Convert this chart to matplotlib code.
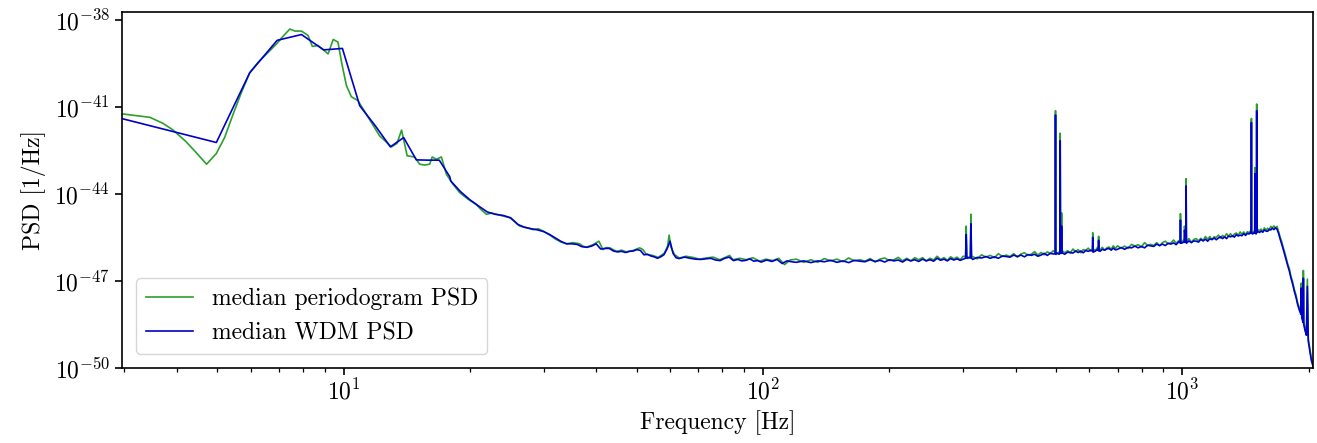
'''
Median PSD comparison: periodogram vs WDM.
'''

import numpy as np
import matplotlib.pyplot as plt
from matplotlib.ticker import NullLocator

# values are log10(PSD [1/Hz])

# low frequency part, periodogram
green_low_freq = [2.96, 3.45, 3.71, 3.92, 4.20, 4.45, 4.71, 4.97, 5.20, 5.45, 5.70, 5.97,
                  6.25, 6.55, 6.92, 7.20, 7.44, 7.65, 7.93, 8.22, 8.42, 8.68, 8.95, 9.18,
                  9.44, 9.69, 9.90, 10.15, 10.43, 10.81, 11.5, 12.18, 13.0, 13.4, 13.74,
                  14.17, 14.76, 15.18, 15.6, 16.03, 16.26, 16.63, 17.1, 17.58, 18.2, 18.9,
                  19.8, 20.7, 21.3, 21.9, 22.5, 23.1, 24.0, 24.9, 25.6, 26.3, 27.3, 28.3,
                  29.1, 29.9, 31.0, 32.1, 33.0, 34.0, 35.2, 36.5, 37.2, 37.9, 39.3, 40.6,
                  41.5, 42.3, 43.1, 44.7, 46.0, 47.2, 49.0, 50.8, 51.7, 52.7, 54.5, 56.2,
                  58.2, 59.2, 59.7, 60.2, 60.4, 61.5, 63.2, 65.5, 68.0, 70.5, 73.2, 76.0,
                  78.8, 81.0, 83.2, 84.7, 88.0, 91.2, 94.5, 98.1, 101.5, 105.5, 109.0,
                  112.5, 116.0]
green_low_log = [-41.23, -41.35, -41.56, -41.79, -42.18, -42.57, -42.97, -42.60, -42.05,
                 -41.24, -40.50, -39.81, -39.45, -39.16, -38.81, -38.52, -38.30, -38.37,
                 -38.37, -38.52, -38.90, -38.87, -39.02, -39.16, -38.66, -38.75, -39.50,
                 -40.25, -40.64, -40.77, -41.40, -41.99, -42.37, -42.25, -41.79, -42.68,
                 -42.72, -42.97, -43.00, -42.97, -42.72, -42.80, -42.72, -43.32, -43.65,
                 -43.95, -44.18, -44.36, -44.55, -44.70, -44.66, -44.70, -44.76, -44.82,
                 -44.95, -45.11, -45.16, -45.23, -45.20, -45.28, -45.42, -45.57, -45.66,
                 -45.72, -45.68, -45.72, -45.80, -45.84, -45.75, -45.63, -45.92, -45.85,
                 -45.86, -45.98, -45.94, -46.00, -45.95, -45.86, -45.92, -46.09, -46.12,
                 -46.19, -46.04, -45.80, -45.42, -45.80, -45.86, -46.10, -46.21, -46.15,
                 -46.19, -46.25, -46.21, -46.18, -46.27, -46.20, -46.12, -46.27, -46.22,
                 -46.27, -46.20, -46.32, -46.25, -46.30, -46.22, -46.44, -46.28]

# low frequency part, WDM
blue_low_freq = [2.0, 4.97, 5.97, 6.94, 7.93, 8.96, 9.93, 10.92, 11.92, 12.92, 13.9, 14.9,
                 15.9, 16.9, 17.9, 18, 19, 20, 21, 22, 23, 24, 25, 26, 27, 28, 29, 30, 31,
                 32, 33, 34, 35, 36, 37, 38, 39, 40, 41, 42, 43, 44, 45, 46, 47, 48, 49,
                 50, 51, 52, 53, 54, 55, 56, 57, 58, 59, 60, 61, 62, 63, 65, 67, 69, 71,
                 73, 75, 77, 79, 81, 83, 85, 87, 89, 91, 93, 95, 97, 99, 102, 105, 108,
                 111, 114, 117]
blue_low_log = [-40.77, -42.22, -39.81, -38.69, -38.49, -39.02, -38.97, -40.95, -41.66,
                -42.37, -42.05, -42.82, -42.83, -42.83, -43.40, -43.55, -43.92, -44.20,
                -44.42, -44.62, -44.70, -44.74, -44.82, -45.05, -45.15, -45.20, -45.24,
                -45.30, -45.40, -45.52, -45.64, -45.72, -45.72, -45.74, -45.82, -45.84,
                -45.80, -45.72, -45.90, -45.88, -45.88, -45.97, -46.00, -45.98, -46.02,
                -45.98, -45.97, -45.92, -45.95, -46.10, -46.08, -46.14, -46.17, -46.22,
                -46.17, -46.10, -45.90, -45.63, -46.05, -46.20, -46.23, -46.18, -46.22,
                -46.25, -46.26, -46.24, -46.22, -46.28, -46.30, -46.22, -46.18, -46.30,
                -46.26, -46.31, -46.29, -46.24, -46.32, -46.30, -46.35, -46.28, -46.33,
                -46.26, -46.40, -46.31, -46.34]

# flat part, shared frequency grid
plateau_freq = [120, 125, 130, 135, 140, 145, 150, 155, 160, 165, 170, 175, 180, 185, 190,
                195, 200, 205, 210, 215, 220, 225, 230, 235, 240, 245, 250, 255, 260, 265,
                270, 275, 280, 285, 290, 295,
                300, 308, 316, 324, 332, 340, 348, 356, 364, 372, 380, 388, 396, 404, 412,
                420, 428, 436, 444, 452, 460, 468, 476, 484, 492, 500, 508, 516, 524, 532,
                540, 548, 556, 564, 572, 580, 588, 596, 604, 612, 620, 628, 636, 644, 652,
                660, 668, 676, 684, 692,
                700, 714, 728, 742, 756, 770, 784, 798, 812, 826, 840, 854, 868, 882, 896,
                910, 924, 938, 952, 966, 980, 994, 1008, 1022, 1036, 1050, 1064, 1078,
                1092, 1106, 1120, 1134, 1148, 1162, 1176, 1190, 1204, 1218, 1232, 1246,
                1260, 1274, 1288, 1302, 1316, 1330, 1344, 1358, 1372, 1386, 1400, 1414,
                1428, 1442, 1456, 1470, 1484, 1498, 1512, 1526, 1540, 1554, 1568, 1582,
                1596, 1610, 1624, 1638, 1652, 1666, 1680]
green_plateau = [-46.25, -46.36, -46.27, -46.36, -46.23, -46.31, -46.25, -46.34, -46.21,
                 -46.31, -46.27, -46.32, -46.23, -46.35, -46.25, -46.21, -46.30, -46.27,
                 -46.19, -46.31, -46.22, -46.31, -46.20, -46.27, -46.20, -46.31, -46.22,
                 -46.28, -46.15, -46.26, -46.20, -46.29, -46.17, -46.24, -46.18, -46.27,
                 -46.15, -46.23, -46.16, -46.24, -46.10, -46.18, -46.12, -46.20, -46.06,
                 -46.16, -46.11, -46.16, -46.06, -46.18, -46.07, -46.03, -46.12, -46.08,
                 -45.99, -46.11, -46.02, -46.10, -46.00, -46.05, -45.96, -46.09, -46.00,
                 -45.95, -46.03, -45.96, -46.04, -45.90, -45.99, -45.92, -46.03, -45.92,
                 -45.95, -45.87, -45.97, -45.90, -45.95, -45.83, -45.93, -45.84, -45.94,
                 -45.86, -45.83, -45.91, -45.79, -45.88,
                 -45.79, -45.87, -45.80, -45.88, -45.74, -45.80, -45.75, -45.83, -45.68,
                 -45.78, -45.74, -45.78, -45.68, -45.79, -45.68, -45.63, -45.72, -45.69,
                 -45.59, -45.70, -45.61, -45.69, -45.57, -45.63, -45.54, -45.67, -45.57,
                 -45.54, -45.62, -45.53, -45.61, -45.47, -45.56, -45.47, -45.58, -45.48,
                 -45.50, -45.42, -45.52, -45.43, -45.49, -45.37, -45.46, -45.37, -45.47,
                 -45.38, -45.35, -45.43, -45.31, -45.39, -45.31, -45.40, -45.30, -45.34,
                 -45.25, -45.35, -45.27, -45.35, -45.22, -45.27, -45.21, -45.30, -45.17,
                 -45.25, -45.18, -45.25, -45.12, -45.17, -45.10, -45.18, -45.12]
blue_plateau = [-46.36, -46.31, -46.37, -46.31, -46.34, -46.29, -46.36, -46.31, -46.37,
                -46.29, -46.32, -46.34, -46.27, -46.33, -46.29, -46.35, -46.27, -46.31,
                -46.28, -46.35, -46.26, -46.31, -46.27, -46.33, -46.25, -46.31, -46.27,
                -46.32, -46.22, -46.29, -46.25, -46.31, -46.23, -46.28, -46.24, -46.29,
                -46.25, -46.19, -46.26, -46.19, -46.21, -46.16, -46.22, -46.17, -46.22,
                -46.14, -46.16, -46.18, -46.11, -46.16, -46.11, -46.17, -46.09, -46.12,
                -46.08, -46.15, -46.11, -46.05, -46.12, -46.05, -46.07, -46.03, -46.08,
                -46.03, -46.08, -46.01, -46.02, -46.04, -45.97, -46.02, -45.97, -46.03,
                -45.95, -45.98, -45.94, -46.01, -45.97, -45.91, -45.98, -45.91, -45.94,
                -45.90, -45.88, -45.94, -45.87, -45.93,
                -45.91, -45.85, -45.91, -45.84, -45.86, -45.80, -45.86, -45.81, -45.86,
                -45.77, -45.79, -45.81, -45.73, -45.78, -45.73, -45.78, -45.70, -45.73,
                -45.69, -45.75, -45.65, -45.70, -45.66, -45.70, -45.62, -45.68, -45.62,
                -45.63, -45.66, -45.57, -45.62, -45.56, -45.63, -45.55, -45.57, -45.52,
                -45.58, -45.52, -45.48, -45.54, -45.48, -45.54, -45.45, -45.48, -45.44,
                -45.49, -45.40, -45.45, -45.42, -45.44, -45.37, -45.43, -45.36, -45.38,
                -45.32, -45.38, -45.33, -45.38, -45.29, -45.33, -45.28, -45.32, -45.24,
                -45.28, -45.29, -45.22, -45.24, -45.18, -45.23, -45.17, -45.21]

# narrow lines (with their base points)
spike_freq = [304, 305, 306, 312, 313, 314, 497, 498, 499, 510, 511, 512, 514, 515,
              610, 611, 630, 631, 632, 987, 989, 991, 1010, 1011, 1019, 1020,
              1459, 1460, 1461, 1487, 1488, 1489, 1502, 1503, 1504]
green_spike = [-46.17, -45.11, -46.17, -46.16, -44.70, -46.16, -46.02, -41.12, -46.02,
               -46.00, -41.90, -46.00, -46.00, -44.65, -45.92, -45.34, -45.91, -45.46,
               -45.90, -45.64, -44.68, -45.63, -45.62, -45.11, -45.61, -43.47,
               -45.30, -41.39, -45.30, -45.29, -43.09, -45.29, -45.28, -40.89, -45.28]
blue_spike = [-46.22, -45.40, -46.22, -46.21, -45.03, -46.21, -46.07, -41.27, -46.07,
              -46.05, -42.16, -46.05, -46.05, -45.11, -45.97, -45.50, -45.96, -45.60,
              -45.95, -45.69, -44.90, -45.68, -45.67, -45.25, -45.66, -43.72,
              -45.35, -41.53, -45.35, -45.34, -43.30, -45.34, -45.33, -41.12, -45.33]

# roll-off above ~1.7 kHz
rolloff_freq = [1695, 1710, 1722, 1735, 1750, 1765, 1782, 1798, 1814, 1830, 1848, 1866,
                1883, 1900, 1915, 1920, 1925, 1935, 1940, 1942, 1946, 1960, 1975, 1985,
                1995, 2010, 2029, 2048]
green_rolloff = [-45.30, -45.50, -45.62, -45.80, -45.98, -46.18, -46.42, -46.58, -46.85,
                 -47.02, -47.30, -47.50, -47.78, -47.92, -48.05, -47.08, -48.20, -48.30,
                 -48.35, -46.64, -48.40, -48.65, -48.80, -46.94, -49.00, -49.30, -49.68,
                 -49.90]
blue_rolloff = [-45.36, -45.56, -45.70, -45.86, -46.05, -46.25, -46.47, -46.66, -46.90,
                -47.10, -47.36, -47.58, -47.83, -48.02, -48.15, -47.25, -48.28, -48.38,
                -48.44, -46.91, -48.50, -48.72, -48.88, -47.19, -49.08, -49.38, -49.75,
                -49.95]


def assemble(*parts):
    freq = np.concatenate([np.asarray(p[0], dtype=float) for p in parts])
    logp = np.concatenate([np.asarray(p[1], dtype=float) for p in parts])
    order = np.argsort(freq, kind='stable')
    return freq[order], 10.0 ** logp[order]


plt.rcParams['font.family'] = 'serif'
plt.rcParams['font.serif'] = ['cmr10', 'DejaVu Serif']
plt.rcParams['mathtext.fontset'] = 'cm'
plt.rcParams['axes.formatter.use_mathtext'] = True
plt.rcParams['font.size'] = 17

green_f, green_psd = assemble((green_low_freq, green_low_log), (plateau_freq, green_plateau),
                              (spike_freq, green_spike), (rolloff_freq, green_rolloff))
blue_f, blue_psd = assemble((blue_low_freq, blue_low_log), (plateau_freq, blue_plateau),
                            (spike_freq, blue_spike), (rolloff_freq, blue_rolloff))

fig = plt.figure(figsize=(13.17, 4.43), dpi=100)
ax = fig.add_axes([0.0926, 0.170, 0.9044, 0.803])

ax.loglog(green_f, green_psd, color='#2ca02c', lw=1.2, label='median periodogram PSD')
ax.loglog(blue_f, blue_psd, color='#0000cd', lw=1.2, label='median WDM PSD')

ax.set_xlim(2.96, 2048)
ax.set_ylim(1e-50, 10 ** -37.71)
ax.set_yticks([1e-50, 1e-47, 1e-44, 1e-41, 1e-38])
ax.yaxis.set_minor_locator(NullLocator())

ax.set_xlabel('Frequency [Hz]')
ax.set_ylabel('PSD [1/Hz]', labelpad=6)

for spine in ax.spines.values():
    spine.set_linewidth(1.2)
ax.tick_params(which='major', length=5, width=1.2)
ax.tick_params(which='minor', length=3, width=0.9)

ax.legend(loc='lower left', fontsize=17, framealpha=0.8, borderaxespad=0.6)

plt.savefig('out.png', dpi=100)
